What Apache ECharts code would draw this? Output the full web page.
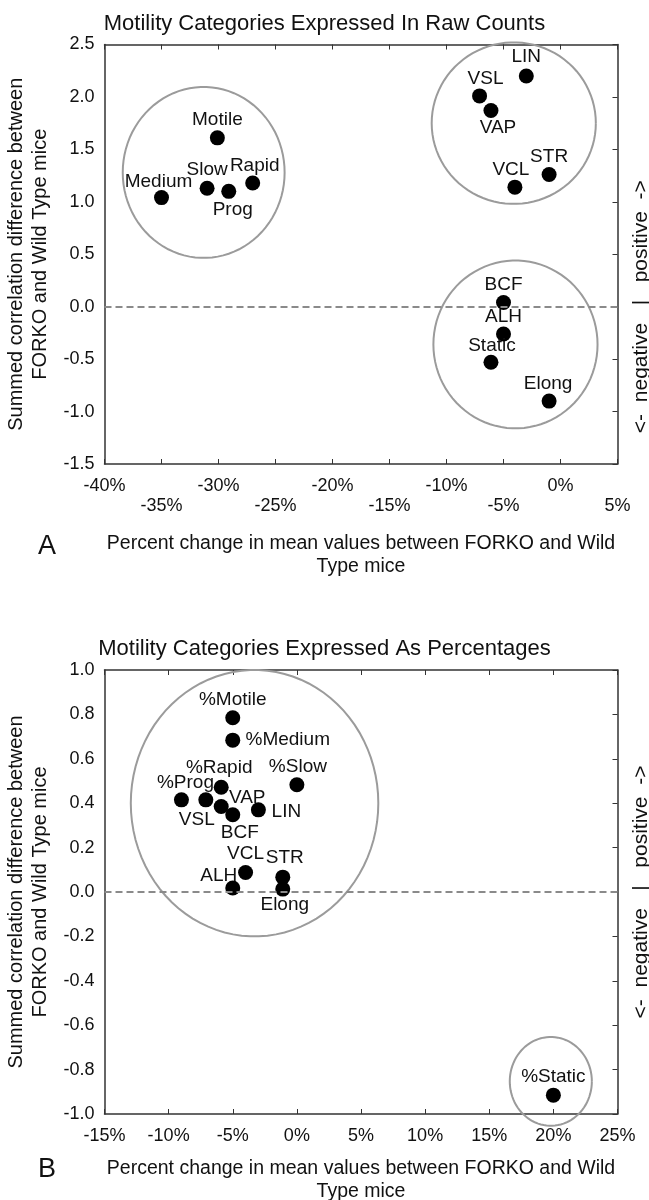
<!DOCTYPE html>
<html>
<head>
<meta charset="utf-8">
<script src="https://cdn.jsdelivr.net/npm/echarts@6/dist/echarts.min.js"></script>
<style>
  html, body { margin: 0; padding: 0; background: #fff; }
  #chart { width: 649px; height: 1200px; }
</style>
</head>
<body>
<div id="chart"></div>
<script>
// Panel A - motility categories as raw counts
const rawNames = ['LIN', 'VSL', 'VAP', 'STR', 'VCL', 'Motile', 'Rapid', 'Slow', 'Prog', 'Medium', 'BCF', 'ALH', 'Static', 'Elong'];
const rawX = [-3.0, -7.1, -6.1, -1.0, -4.0, -30.1, -27.0, -31.0, -29.1, -35.0, -5.0, -5.0, -6.1, -1.0];
const rawY = [2.20, 2.01, 1.87, 1.26, 1.14, 1.61, 1.18, 1.13, 1.10, 1.04, 0.04, -0.26, -0.53, -0.90];
// grouping ellipses (centre / radii in axis units)
const rawGroupCx = [-31.3, -4.1, -3.95];
const rawGroupCy = [1.28, 1.75, -0.36];
const rawGroupRx = [7.1, 7.2, 7.2];
const rawGroupRy = [0.815, 0.77, 0.80];

// Panel B - motility categories as percentages
const pctNames = ['%Motile', '%Medium', '%Slow', '%Rapid', '%Prog', 'VSL', 'VAP', 'BCF', 'LIN', 'VCL', 'ALH', 'STR', 'Elong', '%Static'];
const pctX = [-5.0, -5.0, 0.0, -5.9, -9.0, -7.1, -5.9, -5.0, -3.0, -4.0, -5.0, -1.1, -1.1, 20.0];
const pctY = [0.785, 0.684, 0.483, 0.472, 0.415, 0.415, 0.385, 0.348, 0.370, 0.088, 0.018, 0.067, 0.013, -0.915];
const pctGroupCx = [-3.3, 19.8];
const pctGroupCy = [0.40, -0.853];
const pctGroupRx = [9.65, 3.2];
const pctGroupRy = [0.60, 0.2];

// label placement (px from dot centre) - style only
const rawLabelOffset = [[0, -19], [6, -17], [7, 17], [0, -18], [-4, -17], [0, -18], [2, -17], [0, -18], [4, 18], [-3, -16], [0, -18], [0, -17], [1, -17], [-1, -17]];
const pctLabelOffset = [[0, -18], [55, 0], [1, -18], [-2, -19], [4, -17], [-9, 20], [26, -9], [7, 18], [28, 2], [0, -19], [-14, -12], [2, -19], [2, 16], [0, -18]];

const FONT = '"Liberation Sans", Arial, sans-serif';
const TXT = '#111';
const xName = 'Percent change in mean values between FORKO and Wild\nType mice';
const yName = 'Summed correlation difference between\nFORKO and Wild Type mice';
const sideName = '<-  negative   |   positive  ->';

let myChart = echarts.init(document.getElementById('chart'));

function pointData(names, xs, ys, offsets) {
    return names.map((n, i) => ({
        name: n,
        value: [xs[i], ys[i]],
        label: { offset: offsets[i] }
    }));
}

function groupData(cx, cy, rx, ry) {
    return cx.map((c, i) => [c, cy[i], rx[i], ry[i]]);
}

function renderEllipse(params, api) {
    const cx = api.value(0), cy = api.value(1), rx = api.value(2), ry = api.value(3);
    let pts = [];
    for (let i = 0; i <= 90; i++) {
        const t = i / 90 * Math.PI * 2;
        pts.push(api.coord([cx + rx * Math.cos(t), cy + ry * Math.sin(t)]));
    }
    return {
        type: 'polyline',
        shape: { points: pts },
        style: { stroke: '#9b9b9b', lineWidth: 2, fill: null }
    };
}

function bottomX(grid, min, max, stagger, nameGap) {
    return {
        type: 'value', gridIndex: grid, position: 'bottom', min: min, max: max, interval: 5,
        axisLine: { show: true, onZero: false, lineStyle: { color: '#333', width: 1.5 } },
        axisTick: { show: true, inside: true, length: 5, lineStyle: { color: '#333' } },
        splitLine: { show: false },
        axisLabel: {
            margin: 12, fontSize: 18, color: TXT, fontFamily: FONT, lineHeight: 20,
            showMinLabel: true, showMaxLabel: true,
            formatter: function (v) {
                const s = Math.round(v) + '%';
                if (stagger && Math.round(v) % 10 !== 0) return '\n' + s;
                return s;
            }
        },
        name: xName, nameLocation: 'middle', nameGap: nameGap,
        nameTextStyle: { fontSize: 19.5, color: TXT, fontFamily: FONT, lineHeight: 23 }
    };
}

function topX(grid, min, max) {
    return {
        type: 'value', gridIndex: grid, position: 'top', min: min, max: max, interval: 5,
        axisLine: { show: true, onZero: false, lineStyle: { color: '#333', width: 1.5 } },
        axisTick: { show: true, inside: true, length: 5, lineStyle: { color: '#333' } },
        axisLabel: { show: false },
        splitLine: { show: false }
    };
}

function leftY(grid, min, max, interval) {
    return {
        type: 'value', gridIndex: grid, position: 'left', min: min, max: max, interval: interval,
        axisLine: { show: true, onZero: false, lineStyle: { color: '#333', width: 1.5 } },
        axisTick: { show: false },
        splitLine: { show: false },
        axisLabel: {
            margin: 10, fontSize: 18, color: TXT, fontFamily: FONT,
            formatter: v => v.toFixed(1)
        },
        name: yName, nameLocation: 'middle', nameGap: 51,
        nameTextStyle: { fontSize: 20, color: TXT, fontFamily: FONT, lineHeight: 24 }
    };
}

function rightY(grid, min, max, interval) {
    return {
        type: 'value', gridIndex: grid, position: 'right', min: min, max: max, interval: interval,
        axisLine: { show: true, onZero: false, lineStyle: { color: '#333', width: 1.5 } },
        axisTick: { show: true, inside: true, length: 5, lineStyle: { color: '#333' } },
        axisLabel: { show: false },
        splitLine: { show: false }
    };
}

function zeroLine() {
    return {
        silent: true,
        symbol: ['none', 'none'],
        label: { show: false },
        lineStyle: { color: '#8a8a8a', type: [7, 4], width: 2 },
        data: [{ yAxis: 0 }]
    };
}

const pointLabel = {
    show: true, position: 'inside', formatter: '{b}',
    fontSize: 19, color: TXT, fontFamily: FONT
};

var option = {
    animation: false,
    backgroundColor: '#fff',
    title: [
        {
            text: 'Motility Categories Expressed In Raw Counts',
            left: 'center', top: 8,
            textStyle: { fontSize: 22, fontWeight: 'normal', color: TXT, fontFamily: FONT }
        },
        {
            text: 'Motility Categories Expressed As Percentages',
            left: 'center', top: 633,
            textStyle: { fontSize: 22, fontWeight: 'normal', color: TXT, fontFamily: FONT }
        }
    ],
    grid: [
        { left: 104.5, right: 31.5, top: 44.5, height: 419.5, outerBoundsMode: 'none', containLabel: false },
        { left: 104.5, right: 31.5, top: 670, height: 444, outerBoundsMode: 'none', containLabel: false }
    ],
    xAxis: [
        bottomX(0, -40, 5, true, 68),
        topX(0, -40, 5),
        bottomX(1, -15, 25, false, 43),
        topX(1, -15, 25)
    ],
    yAxis: [
        leftY(0, -1.5, 2.5, 0.5),
        rightY(0, -1.5, 2.5, 0.5),
        leftY(1, -1.0, 1.0, 0.2),
        rightY(1, -1.0, 1.0, 0.2)
    ],
    series: [
        {
            type: 'custom', xAxisIndex: 0, yAxisIndex: 0, silent: true, z: 1,
            renderItem: renderEllipse,
            data: groupData(rawGroupCx, rawGroupCy, rawGroupRx, rawGroupRy)
        },
        {
            type: 'scatter', xAxisIndex: 0, yAxisIndex: 0, z: 3,
            symbolSize: 15,
            itemStyle: { color: '#000', opacity: 1 },
            label: pointLabel,
            markLine: zeroLine(),
            data: pointData(rawNames, rawX, rawY, rawLabelOffset)
        },
        {
            type: 'custom', xAxisIndex: 2, yAxisIndex: 2, silent: true, z: 1,
            renderItem: renderEllipse,
            data: groupData(pctGroupCx, pctGroupCy, pctGroupRx, pctGroupRy)
        },
        {
            type: 'scatter', xAxisIndex: 2, yAxisIndex: 2, z: 3,
            symbolSize: 15,
            itemStyle: { color: '#000', opacity: 1 },
            label: pointLabel,
            markLine: zeroLine(),
            data: pointData(pctNames, pctX, pctY, pctLabelOffset)
        }
    ]
};

myChart.setOption(option);

// side captions: centred on the zero line of each panel
const zeroA = myChart.convertToPixel({ xAxisIndex: 0, yAxisIndex: 0 }, [5, 0]);
const zeroB = myChart.convertToPixel({ xAxisIndex: 2, yAxisIndex: 2 }, [25, 0]);

myChart.setOption({
    graphic: [
        {
            type: 'text', x: zeroA[0] + 24, y: zeroA[1], rotation: Math.PI / 2,
            style: { text: sideName, fontSize: 21, fill: TXT, fontFamily: FONT, align: 'center', verticalAlign: 'middle' }
        },
        {
            type: 'text', x: zeroB[0] + 24, y: zeroB[1], rotation: Math.PI / 2,
            style: { text: sideName, fontSize: 21, fill: TXT, fontFamily: FONT, align: 'center', verticalAlign: 'middle' }
        },
        {
            type: 'text', left: 38, top: 533,
            style: { text: 'A', fontSize: 27, fill: TXT, fontFamily: FONT }
        },
        {
            type: 'text', left: 38, top: 1156,
            style: { text: 'B', fontSize: 27, fill: TXT, fontFamily: FONT }
        }
    ]
});
</script>
</body>
</html>
